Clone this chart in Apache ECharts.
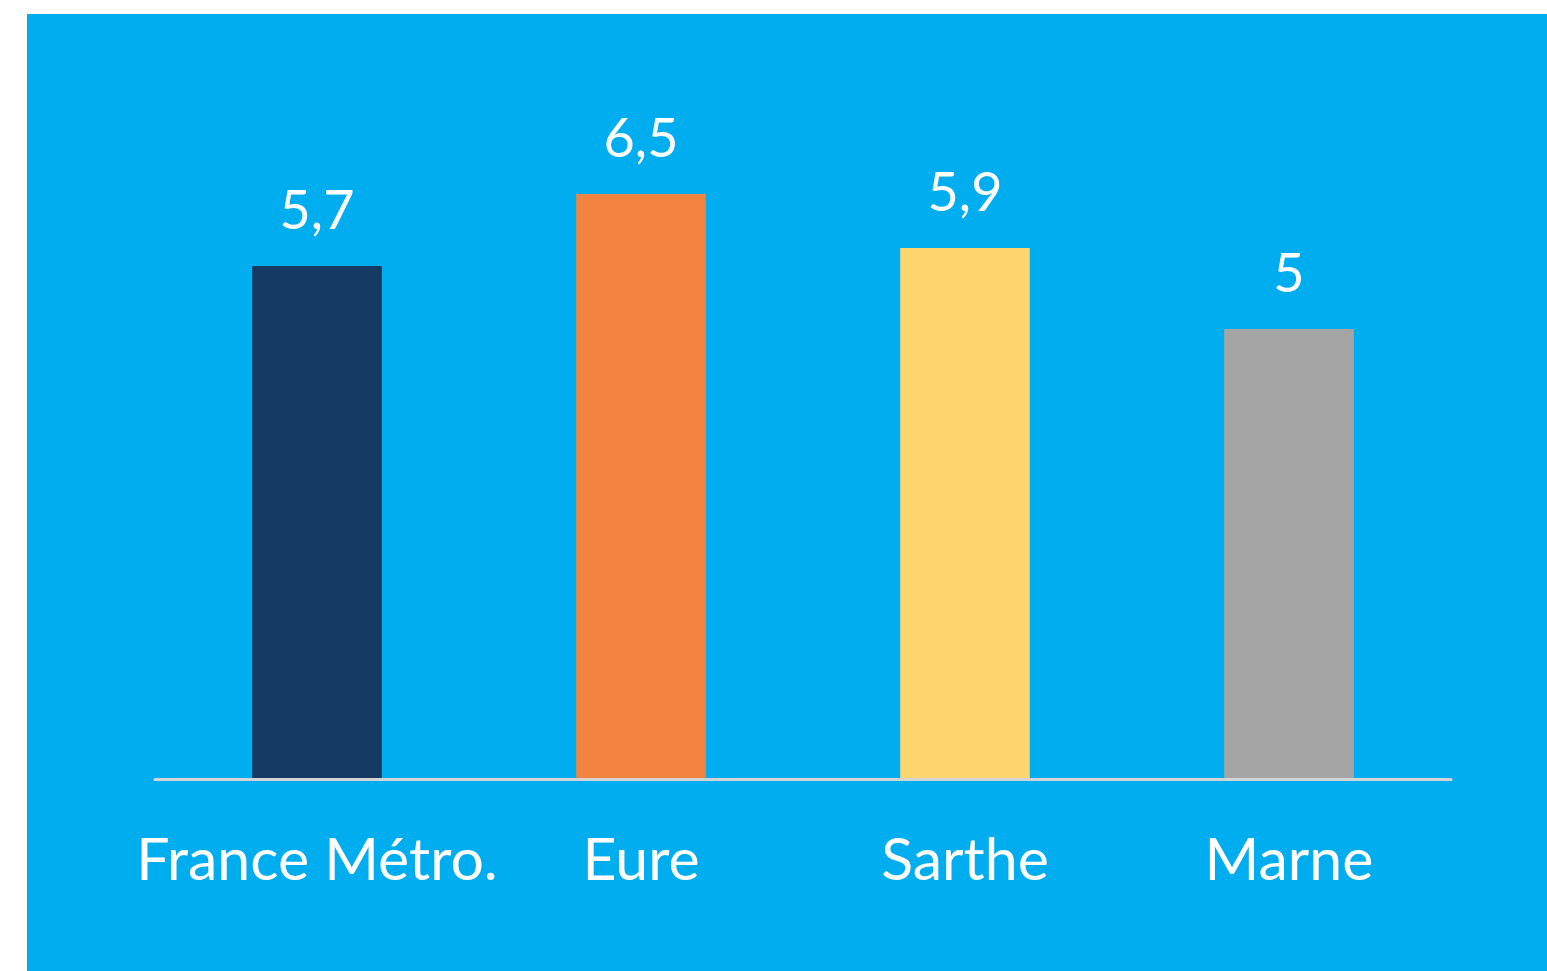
<!DOCTYPE html>
<html>
<head>
<meta charset="utf-8">
<script src="https://cdn.jsdelivr.net/npm/echarts@6/dist/echarts.min.js"></script>
<style>
  html, body { margin: 0; padding: 0; background: #ffffff; }
  #chart { position: absolute; left: 27px; top: 14px; width: 1520px; height: 957px; }
</style>
</head>
<body>
<div id="chart"></div>
<script>
const categories = ["France Métro.", "Eure", "Sarthe", "Marne"];
const values = [5.7, 6.5, 5.9, 5];
const barColors = ["#153a63", "#f28440", "#fcd56e", "#a5a5a5"];

const chart = echarts.init(document.getElementById("chart"));

chart.setOption({
  backgroundColor: "#00adee",
  animation: false,
  grid: { left: 128, right: 96, top: 135, bottom: 192 },
  xAxis: {
    type: "category",
    data: categories,
    z: 5,
    axisLine: { lineStyle: { color: "#d4d4d4", width: 3 } },
    axisTick: { show: false },
    axisLabel: {
      interval: 0,
      color: "#ffffff",
      fontFamily: "Lato",
      fontSize: 59,
      margin: 52,
    },
  },
  yAxis: {
    type: "value",
    min: 0,
    max: 7,
    show: false,
    splitLine: { show: false },
  },
  series: [
    {
      type: "bar",
      barWidth: "40%",
      data: values.map((v, i) => ({ value: v, itemStyle: { color: barColors[i] } })),
      label: {
        show: true,
        position: "top",
        distance: 27,
        color: "#ffffff",
        fontFamily: "Lato",
        fontSize: 54,
        formatter: (p) => String(p.value).replace(".", ","),
      },
    },
  ],
});
</script>
</body>
</html>
